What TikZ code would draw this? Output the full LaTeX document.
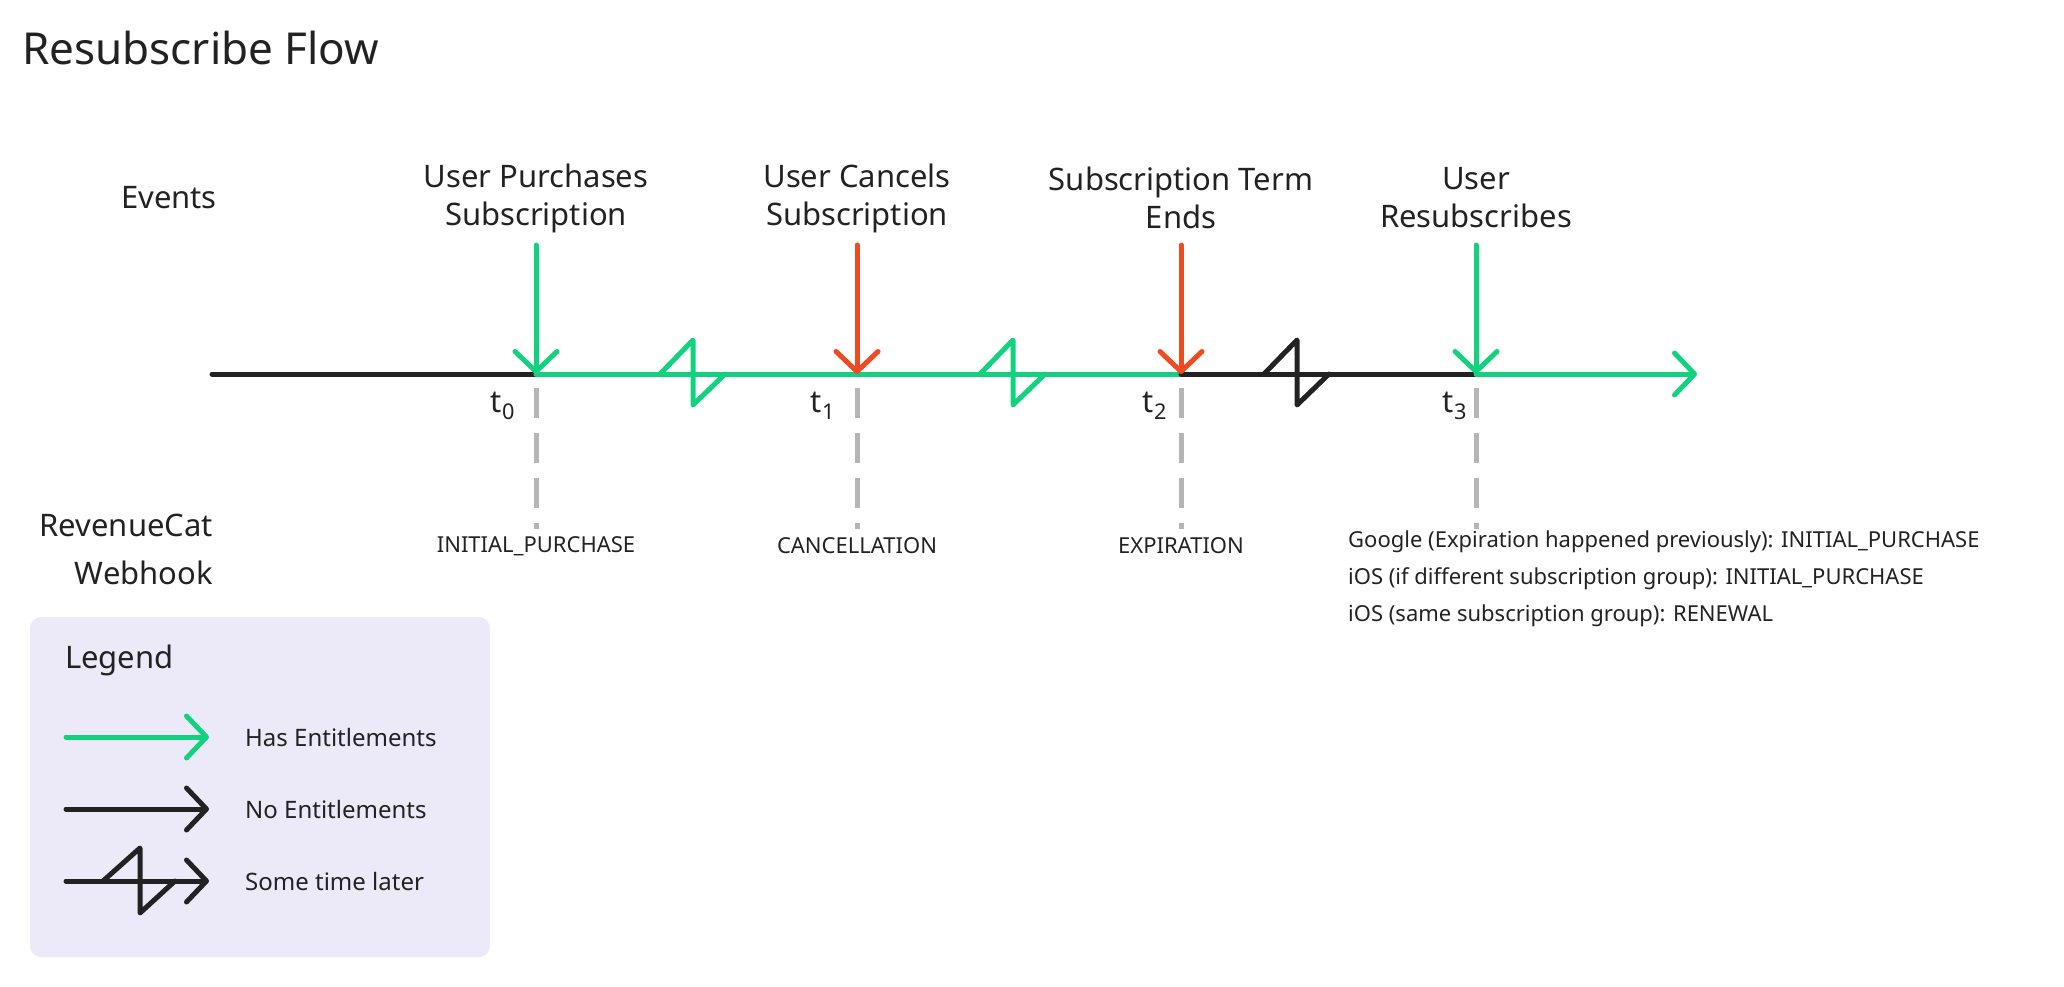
\documentclass[tikz,border=0pt]{standalone}
\usepackage{fontspec}
\setmainfont{Noto Sans}
\usetikzlibrary{arrows.meta}
\definecolor{grn}{HTML}{12D27F}
\definecolor{rd}{HTML}{F04A23}
\definecolor{blk}{HTML}{222222}
\definecolor{gry}{HTML}{B5B5B5}
\definecolor{lav}{HTML}{ECE9F8}
\tikzset{
 x=1pt,y=-1pt,
 ln/.style={line width=5pt,line cap=round,line join=round},
 tipped/.style={ln,-{Straight Barb[length=20pt,width=42pt,round]}},
 dsh/.style={line width=5pt,gry,dash pattern=on 30pt off 15pt},
 big/.style={font=\fontsize{31}{38}\selectfont,align=center,text=blk,inner sep=0},
 sml/.style={font=\fontsize{22}{37}\selectfont,text=blk,inner sep=0},
 leg/.style={font=\fontsize{24}{28}\selectfont,text=blk,inner sep=0,anchor=west},
}
\newcommand{\zig}[3]{\draw[ln,#1] (#2-33,#3) -- (#2,#3-34) -- (#2,#3+31) -- (#2+32,#3);}
\begin{document}
\begin{tikzpicture}
\useasboundingbox (0,0) rectangle (2064,986);
\node[anchor=west,font=\fontsize{44}{50}\selectfont,text=blk,inner sep=0] (title) at (22,48) {Resubscribe Flow};
\node[big] (ev) at (169,198) {Events};
\node[big,align=right,anchor=east,font=\fontsize{31}{48}\selectfont] (rc) at (213,549) {RevenueCat\\Webhook};
% timeline coordinates
\coordinate (s) at (212,374);
\coordinate (t0) at (536,374);
\coordinate (t1) at (857,374);
\coordinate (t2) at (1181,374);
\coordinate (t3) at (1476,374);
\coordinate (e) at (1697,374);
\draw[ln,blk] (s) -- (t0);
\draw[ln,grn] (t0) -- (t2);
\draw[ln,blk] (t2) -- (t3);
\draw[tipped,grn] (t3) -- (e);
\zig{grn}{693}{374}
\zig{grn}{1013}{374}
\zig{blk}{1297}{374}
% event arrows
\foreach \n/\x/\c in {0/536/grn,1/857/rd,2/1181/rd,3/1476/grn}{
 \coordinate (a\n) at (\x,245);
 \draw[tipped,\c] (a\n) -- (t\n);
 \coordinate (d\n) at (\x,388);
 \coordinate (f\n) at (\x,529);
 \draw[dsh] (d\n) -- (f\n);
}
\node[big] (l0) at (536,198) {User Purchases\\Subscription};
\node[big] (l1) at (857,198) {User Cancels\\Subscription};
\node[big] (l2) at (1181,198) {Subscription Term\\Ends};
\node[big] (l3) at (1476,198) {User\\Resubscribes};
\node[big] (tt0) at (503,406) {t\textsubscript{0}};
\node[big] (tt1) at (823,406) {t\textsubscript{1}};
\node[big] (tt2) at (1155,406) {t\textsubscript{2}};
\node[big] (tt3) at (1455,406) {t\textsubscript{3}};
\node[sml] (w0) at (536,546) {INITIAL\_PURCHASE};
\node[sml] (w1) at (857,546) {CANCELLATION};
\node[sml] (w2) at (1181,546) {EXPIRATION};
\node[sml,anchor=north west,align=left] (w3) at (1348,531) {Google (Expiration happened previously): INITIAL\_PURCHASE\\iOS (if different subscription group): INITIAL\_PURCHASE\\iOS (same subscription group): RENEWAL};
% legend
\fill[lav,rounded corners=11pt] (30,617) rectangle (490,957);
\node[leg,font=\fontsize{31}{36}\selectfont] (lg) at (65,660) {Legend};
\coordinate (la) at (66,737); \coordinate (lb) at (209,737);
\coordinate (lc) at (66,809); \coordinate (ld) at (209,809);
\coordinate (le) at (66,881); \coordinate (lf) at (209,881);
\draw[tipped,grn] (la) -- (lb);
\draw[tipped,blk] (lc) -- (ld);
\draw[tipped,blk] (le) -- (lf);
\draw[ln,blk] (103,881) -- (140,848) -- (140,913) -- (175,881);
\node[leg] (h1) at (245,737) {Has Entitlements};
\node[leg] (h2) at (245,809) {No Entitlements};
\node[leg] (h3) at (245,881) {Some time later};
\end{tikzpicture}
\end{document}
